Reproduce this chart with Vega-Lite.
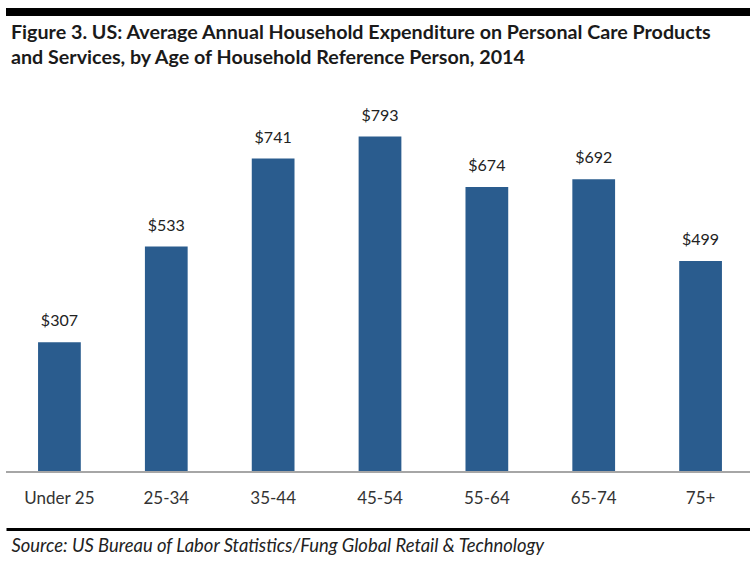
{
  "$schema": "https://vega.github.io/schema/vega-lite/v6.json",
  "autosize": {"type": "none"},
  "width": 748,
  "height": 517,
  "padding": {"left": 6, "top": 12, "right": 0, "bottom": 34},
  "background": "white",
  "config": {"view": {"stroke": null}},
  "title": {
    "text": ["Figure 3. US: Average Annual Household Expenditure on Personal Care Products", "and Services, by Age of Household Reference Person, 2014"],
    "anchor": "start",
    "frame": "group",
    "offset": -59,
    "dx": 5,
    "font": "Lato",
    "fontSize": 19.7,
    "fontWeight": "bold",
    "color": "#1a1a1a",
    "lineHeight": 25
  },
  "data": {
    "values": [
      {"age": "Under 25", "spend": 307},
      {"age": "25-34", "spend": 533},
      {"age": "35-44", "spend": 741},
      {"age": "45-54", "spend": 793},
      {"age": "55-64", "spend": 674},
      {"age": "65-74", "spend": 692},
      {"age": "75+", "spend": 499}
    ]
  },
  "encoding": {
    "x": {
      "field": "age",
      "type": "nominal",
      "sort": null,
      "scale": {"paddingInner": 0.6, "paddingOuter": 0.3},
      "axis": {
        "title": "Source: US Bureau of Labor Statistics/Fung Global Retail & Technology",
        "titleFont": "Lato",
        "titleFontSize": 18.4,
        "titleFontStyle": "italic",
        "titleFontWeight": "normal",
        "titleColor": "#222222",
        "titleAnchor": "start",
        "titleAlign": "left",
        "titleBaseline": "alphabetic",
        "titleX": 5,
        "titleY": 22,
        "labels": false,
        "ticks": false,
        "domainColor": "#000000",
        "domainWidth": 3
      }
    }
  },
  "layer": [
    {
      "mark": {"type": "bar", "color": "#2a5c8e"},
      "encoding": {
        "y": {"field": "spend", "type": "quantitative", "scale": {"domain": [-134.75, 1087.5], "nice": false, "zero": false}, "axis": null}
      }
    },
    {
      "mark": {"type": "text", "font": "Lato", "fontSize": 16, "color": "#222222", "baseline": "alphabetic", "dy": -16},
      "encoding": {
        "y": {"field": "spend", "type": "quantitative"},
        "text": {"field": "spend", "type": "quantitative", "format": "$,.0f"}
      }
    },
    {
      "mark": {"type": "text", "font": "Lato", "fontSize": 17, "color": "#333333", "baseline": "alphabetic"},
      "encoding": {
        "y": {"datum": -75.6, "type": "quantitative"},
        "text": {"field": "age", "type": "nominal"}
      }
    },
    {
      "mark": {"type": "rule", "color": "#a6a6a6", "strokeWidth": 2},
      "encoding": {"x": null, "y": {"datum": 0, "type": "quantitative"}}
    },
    {
      "mark": {"type": "rule", "color": "#000000", "strokeWidth": 7},
      "encoding": {"x": null, "y": {"datum": 1087.5, "type": "quantitative"}}
    }
  ]
}
